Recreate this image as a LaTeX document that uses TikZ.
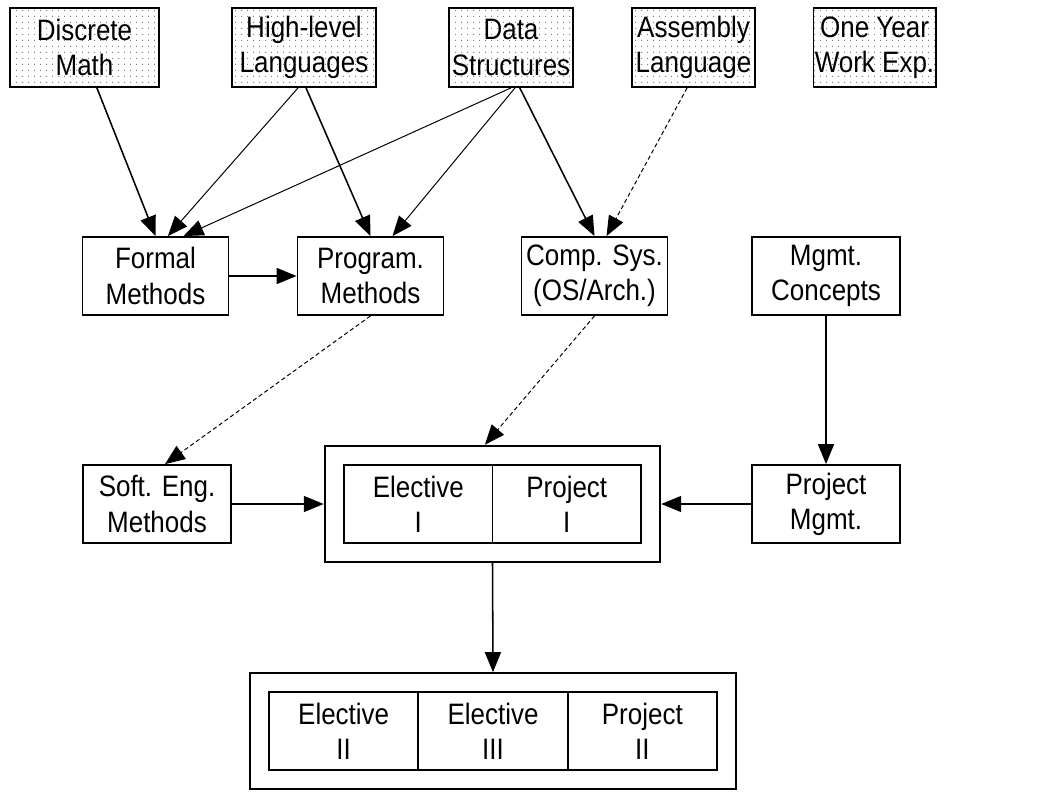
\documentclass[tikz,border=0pt]{standalone}
\usepackage{fontspec}
\setmainfont{Liberation Sans}[FakeStretch=0.88]
\usepackage{tikz}
\usetikzlibrary{arrows.meta}
\usetikzlibrary{patterns.meta}
\usetikzlibrary{fit}
\newcommand{\boxfont}{\fontsize{21}{25}\selectfont}

\begin{document}
\begin{tikzpicture}[
  box/.style={draw, line width=1.3pt, align=center, inner sep=1pt,
    minimum height=1.95cm, font=\boxfont},
  prereq/.style={box, minimum height=1.975cm,
    pattern={Dots[distance=4pt,radius=0.45pt]}, pattern color=black!55},
  cell/.style={box, minimum height=1.95cm},
  block/.style={draw, line width=1.3pt, inner sep=0.46cm},
  link/.style={-{Triangle[length=5mm,width=4mm]}, line width=1.1pt},
  thinlink/.style={link, line width=0.7pt},
  faint/.style={link, line width=0.7pt, densely dashed}]
\useasboundingbox (0,0) rectangle (26.45,-19.775);
% prerequisites
\node[prereq, minimum width=3.725cm] (dm) at (2.1125,-1.1875) {Discrete\\Math};
\node[prereq, minimum width=3.6cm] (hl) at (7.6,-1.1875) {High-level\\Languages};
\node[prereq, minimum width=3.1cm] (ds) at (12.775,-1.1875) {Data\\Structures};
\node[prereq, minimum width=3.075cm] (al) at (17.3375,-1.1875) {Assembly\\Language};
\node[prereq, minimum width=3.025cm] (we) at (21.8625,-1.1875) {One Year\\Work Exp.};
% core courses
\node[box, minimum width=3.65cm] (fm) at (3.8875,-6.9) {Formal\\Methods};
\node[box, minimum width=3.65cm] (pm) at (9.2625,-6.9) {Program.\\Methods};
\node[box, minimum width=3.65cm] (cs) at (14.8625,-6.9) {Comp. Sys.\\(OS/Arch.)};
\node[box, minimum width=3.7cm] (mc) at (20.65,-6.9) {Mgmt.\\Concepts};
\node[box, minimum width=3.7cm] (se) at (3.925,-12.6) {Soft. Eng.\\Methods};
\node[box, minimum width=3.7cm] (pg) at (20.65,-12.6) {Project\\Mgmt.};
% first block
\node[cell, minimum width=3.7125cm] (e1) at (10.45625,-12.6) {Elective\\I};
\node[cell, minimum width=3.7125cm] (p1) at (14.16875,-12.6) {Project\\I};
\node[block, fit=(e1)(p1)] (blk1) {};
% second block
\node[cell, minimum width=3.7333cm] (e2) at (8.5917,-18.275) {Elective\\II};
\node[cell, minimum width=3.7333cm] (e3) at (12.325,-18.275) {Elective\\III};
\node[cell, minimum width=3.7333cm] (p2) at (16.0583,-18.275) {Project\\II};
\node[block, inner sep=0.45cm, fit=(e2)(p2)] (blk2) {};

\draw[link] ([xshift=0.31cm]dm.south) -- (fm.north);
\draw[thinlink] ([xshift=-0.15cm]hl.south) -- ([xshift=0.31cm]fm.north);
\draw[thinlink] (ds.south) -- ([xshift=0.7cm]fm.north);
\draw[link] ([xshift=0.05cm]hl.south) -- (pm.north);
\draw[thinlink] ([xshift=0.1cm]ds.south) -- ([xshift=0.55cm]pm.north);
\draw[link] ([xshift=0.22cm]ds.south) -- (cs.north);
\draw[faint] ([xshift=-0.16cm]al.south) -- ([xshift=0.3cm]cs.north);
\draw[link] (fm.east) -- (pm.west);
\draw[faint] (pm.south) -- ([xshift=0.2cm]se.north);
\draw[faint] (cs.south) -- ([xshift=-0.19cm]blk1.north);
\draw[link] (mc.south) -- (pg.north);
\draw[link] (se.east) -- (blk1.west);
\draw[link] (pg.west) -- (blk1.east);
\draw[link] (blk1.south) -- (blk2.north);
\end{tikzpicture}
\end{document}
